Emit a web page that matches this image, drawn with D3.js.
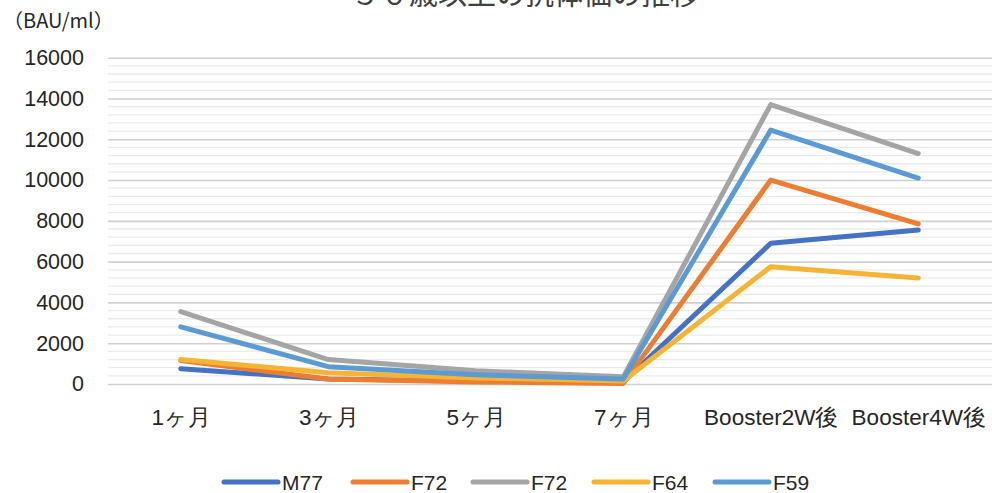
<!DOCTYPE html>
<html>
<head>
<meta charset="utf-8">
<script src="https://cdn.jsdelivr.net/npm/d3@7"></script>
<style>
  body { margin: 0; background: #fff; }
  svg { font-family: "Noto Sans CJK JP", "Noto Sans", sans-serif; }
</style>
</head>
<body>
<svg id="chart" width="992" height="493"></svg>
<script>
const categories = ["1ヶ月", "3ヶ月", "5ヶ月", "7ヶ月", "Booster2W後", "Booster4W後"];
const seriesNames = ["M77", "F72", "F72", "F64", "F59"];
const seriesColors = ["#4472C4", "#ED7D31", "#A5A5A5", "#F6B434", "#5B9BD5"];
const m77 = [750, 250, 150, 100, 6900, 7550];
const f72a = [1150, 250, 100, 30, 10000, 7850];
const f72b = [3550, 1200, 650, 350, 13700, 11300];
const f64 = [1200, 550, 300, 150, 5750, 5200];
const f59 = [2800, 850, 450, 250, 12450, 10100];
const seriesValues = [m77, f72a, f72b, f64, f59];
const yTicks = [0, 2000, 4000, 6000, 8000, 10000, 12000, 14000, 16000];

const svg = d3.select("#chart");

// plot area
const plotLeft = 107, plotRight = 992, plotTop = 57.7, plotBottom = 384;

const x = d3.scalePoint()
  .domain(categories)
  .range([plotLeft, plotRight])
  .padding(0.5);

const y = d3.scaleLinear()
  .domain([0, 16000])
  .range([plotBottom, plotTop]);

// minor grid every 400
const minor = d3.range(400, 16000, 400).filter(function (v) { return v % 2000 !== 0; });
svg.append("g")
  .selectAll("line")
  .data(minor)
  .enter()
  .append("line")
  .attr("x1", plotLeft + 1)
  .attr("x2", plotRight)
  .attr("y1", function (d) { return y(d); })
  .attr("y2", function (d) { return y(d); })
  .attr("stroke", "#ebebeb")
  .attr("stroke-width", 1.3);

// major grid + tick labels
const yAxis = d3.axisLeft(y)
  .tickValues(yTicks)
  .tickSize(-(plotRight - plotLeft - 1))
  .tickPadding(24)
  .tickFormat(d3.format("d"));

const gy = svg.append("g")
  .attr("transform", "translate(" + (plotLeft + 1) + ",0)")
  .call(yAxis);
gy.select(".domain").remove();
gy.selectAll(".tick line")
  .attr("stroke", "#d0d0d0")
  .attr("stroke-width", 1.6);
gy.selectAll(".tick text")
  .attr("font-size", 21.5)
  .attr("fill", "#262626");

// x labels
const xAxis = d3.axisBottom(x).tickSize(0).tickPadding(25);
const gx = svg.append("g")
  .attr("transform", "translate(0," + plotBottom + ")")
  .call(xAxis);
gx.select(".domain").remove();
gx.selectAll(".tick text")
  .attr("font-size", 22.5)
  .attr("fill", "#262626");

// lines
const line = d3.line()
  .x(function (d, i) { return x(categories[i]); })
  .y(function (d) { return y(d); });

svg.append("g")
  .selectAll("path")
  .data(seriesValues)
  .enter()
  .append("path")
  .attr("d", line)
  .attr("fill", "none")
  .attr("stroke", function (d, i) { return seriesColors[i]; })
  .attr("stroke-width", 5)
  .attr("stroke-linecap", "round")
  .attr("stroke-linejoin", "round");

// title (cut off at top, as in the source) and unit
svg.append("text")
  .text("５０歳以上の抗体価の推移")
  .attr("x", 525)
  .attr("y", 5)
  .attr("text-anchor", "middle")
  .attr("font-size", 29)
  .attr("fill", "#404040");

svg.append("text")
  .text("（BAU/ml）")
  .attr("x", 3)
  .attr("y", 28)
  .attr("font-size", 20)
  .attr("fill", "#262626");

// legend
const legendX = [222, 351, 471, 592, 713];
const legend = svg.append("g")
  .selectAll("g")
  .data(seriesNames)
  .enter()
  .append("g")
  .attr("transform", function (d, i) { return "translate(" + legendX[i] + ",482)"; });

legend.append("line")
  .attr("x1", 2)
  .attr("x2", 56)
  .attr("stroke", function (d, i) { return seriesColors[i]; })
  .attr("stroke-width", 5)
  .attr("stroke-linecap", "round");

legend.append("text")
  .text(function (d) { return d; })
  .attr("x", 60)
  .attr("dy", "0.36em")
  .attr("font-family", "'Liberation Sans Narrow', 'Liberation Sans', sans-serif")
  .attr("font-size", 21)
  .attr("fill", "#262626");
</script>
</body>
</html>
